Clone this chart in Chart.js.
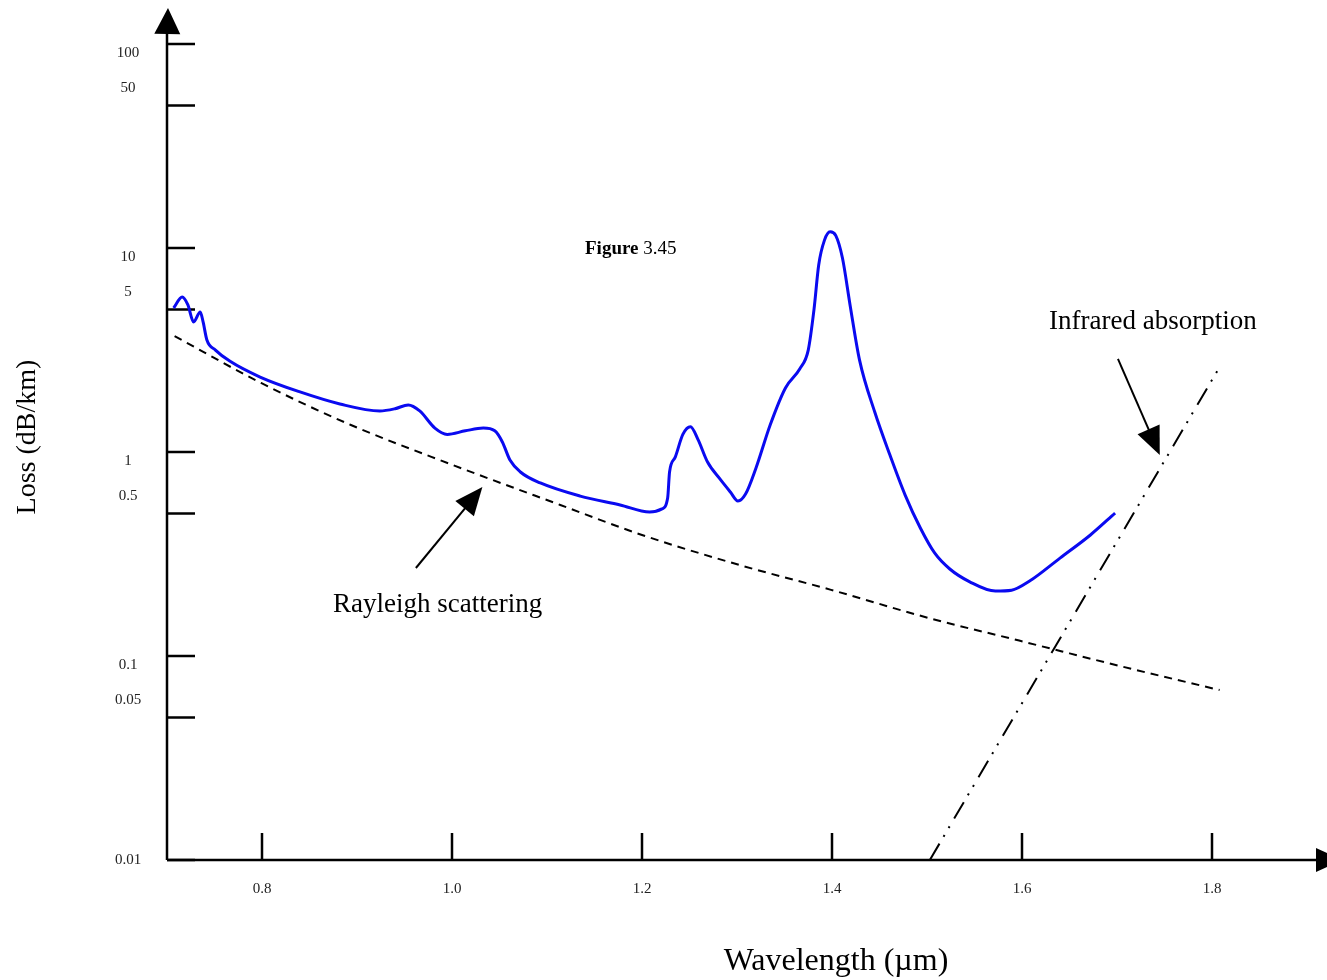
<!DOCTYPE html>
<html>
<head>
<meta charset="utf-8">
<script src="https://cdn.jsdelivr.net/npm/chart.js@4/dist/chart.umd.min.js"></script>
<style>
  body { margin: 0; background: #fff; }
  #wrap { width: 1327px; height: 980px; }
</style>
</head>
<body>
<div id="wrap"><canvas id="lossChart"></canvas></div>
<script>
// measured fibre loss (blue curve)
const lossX = [0.707, 0.716, 0.722, 0.728, 0.735, 0.738, 0.742, 0.751, 0.766, 0.798, 0.840, 0.882,
  0.924, 0.940, 0.954, 0.966, 0.982, 0.995, 1.014, 1.033, 1.045, 1.053, 1.061, 1.072, 1.093,
  1.135, 1.177, 1.208, 1.221, 1.227, 1.229, 1.235, 1.243, 1.251, 1.259, 1.269, 1.282, 1.293,
  1.301, 1.309, 1.320, 1.335, 1.351, 1.366, 1.375, 1.381, 1.386, 1.392, 1.398, 1.404, 1.411,
  1.419, 1.429, 1.445, 1.461, 1.477, 1.493, 1.508, 1.524, 1.545, 1.572, 1.589, 1.608, 1.640,
  1.672, 1.698];
const lossY = [5.08, 5.75, 5.26, 4.34, 4.86, 4.34, 3.54, 3.16, 2.79, 2.33, 1.97, 1.72,
  1.59, 1.63, 1.70, 1.59, 1.31, 1.22, 1.27, 1.31, 1.27, 1.12, 0.914, 0.798, 0.705,
  0.608, 0.550, 0.508, 0.526, 0.595, 0.798, 0.944, 1.22, 1.33, 1.15, 0.893, 0.738, 0.637,
  0.575, 0.622, 0.835, 1.36, 2.06, 2.55, 3.16, 4.97, 8.26, 10.9, 12.0, 11.5, 8.93,
  5.26, 2.82, 1.57, 0.966, 0.615, 0.424, 0.320, 0.267, 0.231, 0.208, 0.210, 0.233, 0.302,
  0.392, 0.502];

// Rayleigh scattering (dashed)
const rayleighX = [0.708, 0.799, 0.893, 1.001, 1.114, 1.200, 1.303, 1.399, 1.503, 1.597, 1.703, 1.808];
const rayleighY = [3.70, 2.18, 1.36, 0.863, 0.550, 0.392, 0.279, 0.211, 0.153, 0.119, 0.0893, 0.0681];

// Infrared absorption (dash-dot-dot)
const infraredX = [1.503, 1.808];
const infraredY = [0.01, 2.61];

const xTicks = [0.8, 1.0, 1.2, 1.4, 1.6, 1.8];
const xTickLabels = ["0.8", "1.0", "1.2", "1.4", "1.6", "1.8"];
const yTicks = [100, 50, 10, 5, 1, 0.5, 0.1, 0.05, 0.01];
const yTickLabels = ["100", "50", "10", "5", "1", "0.5", "0.1", "0.05", "0.01"];

// annotation arrows, [from, to] in data units
const rayleighArrow = [[0.962, 0.270], [1.032, 0.673]];
const infraredArrow = [[1.701, 2.86], [1.745, 0.966]];

const toPoints = (xs, ys) => xs.map((x, i) => ({ x: x, y: ys[i] }));

const serif = "'Liberation Serif', 'Times New Roman', serif";

const drawHead = (ctx, x1, y1, x2, y2, len, half) => {
  const a = Math.atan2(y2 - y1, x2 - x1);
  ctx.beginPath();
  ctx.moveTo(x2, y2);
  ctx.lineTo(x2 - len * Math.cos(a) + half * Math.sin(a), y2 - len * Math.sin(a) - half * Math.cos(a));
  ctx.lineTo(x2 - len * Math.cos(a) - half * Math.sin(a), y2 - len * Math.sin(a) + half * Math.cos(a));
  ctx.closePath();
  ctx.fill();
};

const drawArrow = (chart, arrow) => {
  const ctx = chart.ctx;
  const xs = chart.scales.x, ys = chart.scales.y;
  const x1 = xs.getPixelForValue(arrow[0][0]), y1 = ys.getPixelForValue(arrow[0][1]);
  const x2 = xs.getPixelForValue(arrow[1][0]), y2 = ys.getPixelForValue(arrow[1][1]);
  const a = Math.atan2(y2 - y1, x2 - x1);
  ctx.strokeStyle = "#000";
  ctx.fillStyle = "#000";
  ctx.lineWidth = 2;
  ctx.beginPath();
  ctx.moveTo(x1, y1);
  ctx.lineTo(x2 - 20 * Math.cos(a), y2 - 20 * Math.sin(a));
  ctx.stroke();
  drawHead(ctx, x1, y1, x2, y2, 28, 12);
};

const axesPlugin = {
  id: "handAxes",
  beforeDatasetsDraw(chart) {
    const ctx = chart.ctx;
    const area = chart.chartArea;
    const xs = chart.scales.x, ys = chart.scales.y;
    ctx.save();
    ctx.strokeStyle = "#000";
    ctx.fillStyle = "#000";
    ctx.lineWidth = 2.5;

    // axis lines
    ctx.beginPath();
    ctx.moveTo(area.left, area.bottom);
    ctx.lineTo(area.left, area.top - 14);
    ctx.moveTo(area.left, area.bottom);
    ctx.lineTo(area.right - 10, area.bottom);
    ctx.stroke();
    drawHead(ctx, area.left, area.top, area.left + 1, area.top - 36, 26, 13);
    drawHead(ctx, area.left, area.bottom, area.right + 16, area.bottom, 26, 12);

    // tick marks pointing inward
    ctx.beginPath();
    yTicks.forEach((v) => {
      const py = ys.getPixelForValue(v);
      ctx.moveTo(area.left, py);
      ctx.lineTo(area.left + 28, py);
    });
    xTicks.forEach((v) => {
      const px = xs.getPixelForValue(v);
      ctx.moveTo(px, area.bottom);
      ctx.lineTo(px, area.bottom - 27);
    });
    ctx.stroke();

    // tick labels
    ctx.fillStyle = "#222";
    ctx.font = "15px " + serif;
    ctx.textAlign = "center";
    ctx.textBaseline = "middle";
    yTicks.forEach((v, i) => {
      const label = yTickLabels[i];
      let shift = label.includes("5") ? -17 : 9;
      if (i === yTicks.length - 1) shift = 0;
      ctx.fillText(label, area.left - 39, ys.getPixelForValue(v) + shift);
    });
    xTicks.forEach((v, i) => {
      ctx.fillText(xTickLabels[i], xs.getPixelForValue(v), area.bottom + 29);
    });
    ctx.restore();
  },
  afterDatasetsDraw(chart) {
    const ctx = chart.ctx;
    ctx.save();
    ctx.fillStyle = "#000";
    ctx.textBaseline = "middle";

    // axis titles
    ctx.textAlign = "center";
    ctx.font = "32px " + serif;
    ctx.fillText("Wavelength (\u00b5m)", 836, 962);
    ctx.save();
    ctx.translate(28, 437);
    ctx.rotate(-Math.PI / 2);
    ctx.font = "28px " + serif;
    ctx.fillText("Loss (dB/km)", 0, 0);
    ctx.restore();

    // annotations
    ctx.textAlign = "left";
    ctx.font = "27px " + serif;
    ctx.fillText("Rayleigh scattering", 333, 605);
    ctx.fillText("Infrared absorption", 1049, 322);

    ctx.font = "bold 19px " + serif;
    ctx.fillText("Figure", 585, 249);
    const w = ctx.measureText("Figure ").width;
    ctx.font = "19px " + serif;
    ctx.fillText("3.45", 585 + w, 249);

    drawArrow(chart, rayleighArrow);
    drawArrow(chart, infraredArrow);
    ctx.restore();
  }
};

const ctxEl = document.getElementById("lossChart").getContext("2d");
new Chart(ctxEl, {
  type: "line",
  data: {
    datasets: [
      {
        label: "Loss",
        data: toPoints(lossX, lossY),
        borderColor: "#0a0af0",
        borderWidth: 3,
        pointRadius: 0,
        cubicInterpolationMode: "monotone",
        fill: false
      },
      {
        label: "Rayleigh scattering",
        data: toPoints(rayleighX, rayleighY),
        borderColor: "#000",
        borderWidth: 2,
        borderDash: [8, 6],
        pointRadius: 0,
        cubicInterpolationMode: "monotone",
        fill: false
      },
      {
        label: "Infrared absorption",
        data: toPoints(infraredX, infraredY),
        borderColor: "#000",
        borderWidth: 2,
        borderDash: [19, 8, 2, 8, 2, 9],
        pointRadius: 0,
        tension: 0,
        fill: false
      }
    ]
  },
  options: {
    responsive: true,
    maintainAspectRatio: false,
    animation: false,
    layout: { padding: { left: 167, right: 1, top: 44, bottom: 120 } },
    plugins: {
      legend: { display: false },
      tooltip: { enabled: false }
    },
    scales: {
      x: { type: "linear", min: 0.7, max: 1.92, display: false },
      y: { type: "logarithmic", min: 0.01, max: 100, display: false }
    }
  },
  plugins: [axesPlugin]
});
</script>
</body>
</html>
